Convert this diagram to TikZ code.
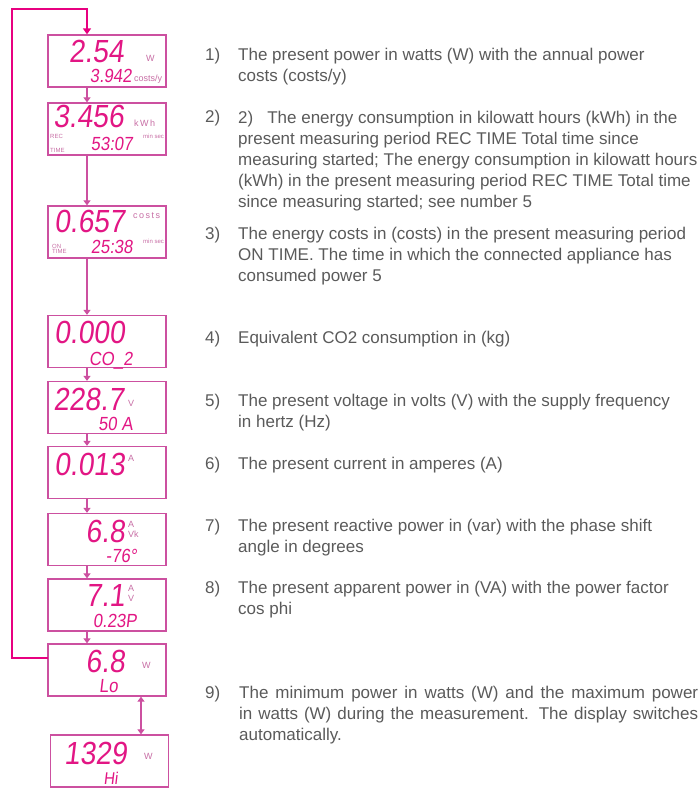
\documentclass[tikz,border=0pt]{standalone}
\usepackage{fontspec}
\setmainfont{Liberation Sans}
\newfontfamily\lcdfont[FakeSlant=0.12,FakeStretch=0.88]{Liberation Sans}
\usepackage{tikz}
\usetikzlibrary{arrows.meta}
\definecolor{lcdpink}{RGB}{226,22,132}
\definecolor{framepink}{RGB}{204,80,160}
\definecolor{looppink}{RGB}{232,0,128}
\definecolor{unitpink}{RGB}{200,110,165}
\definecolor{txtgray}{RGB}{90,90,90}
\tikzset{
  lcdbox/.style   = {draw=framepink, line width=1.3pt, fill=white,
                     minimum width=118pt, minimum height=52pt, inner sep=0pt},
  lcdbig/.style   = {anchor=base east, inner sep=0pt, lcdpink,
                     font=\lcdfont\fontsize{32}{32}\selectfont},
  lcdmid/.style   = {anchor=base east, inner sep=0pt, lcdpink,
                     font=\lcdfont\fontsize{19}{19}\selectfont},
  lcdunit/.style  = {anchor=base west, inner sep=0pt, unitpink,
                     font=\fontsize{9}{9}\selectfont},
  lcdtiny/.style  = {anchor=base west, inner sep=0pt, unitpink,
                     font=\fontsize{6}{6}\selectfont},
  flowar/.style   = {-{Triangle[length=5pt,width=7pt]}, framepink, line width=1.2pt},
  loopline/.style = {-{Triangle[length=6pt,width=8pt]}, looppink, line width=1.8pt},
  itemnum/.style  = {anchor=base west, inner sep=0pt, txtgray,
                     font=\fontsize{17}{21}\selectfont},
  itemtxt/.style  = {itemnum, align=left}
}
% base of a multi-line node is its last line: place nodes at last baseline
\newcommand{\fullline}[1]{\makebox[459pt][s]{#1}}

\begin{document}
\begin{tikzpicture}[x=1pt,y=-1pt]
  \useasboundingbox (0,0) rectangle (700,789);
  % display boxes
  \node[lcdbox] (d1)  at (107,61)    {};
  \node[lcdbox] (d2)  at (107,129)   {};
  \node[lcdbox] (d3)  at (107,232)   {};
  \node[lcdbox] (d4)  at (107,341.5) {};
  \node[lcdbox] (d5)  at (107,407.5) {};
  \node[lcdbox] (d6)  at (107,472.5) {};
  \node[lcdbox] (d7)  at (107,539.5) {};
  \node[lcdbox] (d8)  at (107,605)   {};
  \node[lcdbox] (d9)  at (107,670)   {};
  \node[lcdbox] (d10) at (109.5,761) {};
  % display readings
  \node[lcdbig]  (r1a) at (124,63)  {2.54};
  \node[lcdunit] (u1a) at (146,62)  {W};
  \node[lcdmid]  (r1b) at (132,83)  {3.942};
  \node[lcdunit] (u1b) at (134,82)  {costs/y};
  \node[lcdbig]  (r2a) at (124,128) {3.456};
  \node[lcdunit] (u2a) at (134,127) {k\,W\,h};
  \node[lcdtiny] (u2b) at (50,139)  {REC};
  \node[lcdtiny] (u2c) at (50,152)  {TIME};
  \node[lcdmid]  (r2b) at (133,150) {53:07};
  \node[lcdtiny] (u2d) at (143,139) {min sec};
  \node[lcdbig]  (r3a) at (125,232) {0.657};
  \node[lcdunit] (u3a) at (133,218) {c\,o\,s\,t\,s};
  \node[lcdtiny] (u3b) at (52,248)  {ON};
  \node[lcdtiny] (u3c) at (52,253)  {TIME};
  \node[lcdmid]  (r3b) at (133,253) {25:38};
  \node[lcdtiny] (u3d) at (143,243) {min sec};
  \node[lcdbig]  (r4a) at (125,343) {0.000};
  \node[lcdmid]  (r4b) at (133,365) {CO\_2};
  \node[lcdbig]  (r5a) at (124,410) {228.7};
  \node[lcdunit] (u5a) at (128,406) {V};
  \node[lcdmid]  (r5b) at (133,430) {50 A};
  \node[lcdbig]  (r6a) at (125,475) {0.013};
  \node[lcdunit] (u6a) at (128,461) {A};
  \node[lcdbig]  (r7a) at (125,542) {6.8};
  \node[lcdunit] (u7a) at (128,527) {A};
  \node[lcdunit] (u7b) at (128,537) {Vk};
  \node[lcdmid]  (r7b) at (137,562) {-76°};
  \node[lcdbig]  (r8a) at (125,606) {7.1};
  \node[lcdunit] (u8a) at (128,591) {A};
  \node[lcdunit] (u8b) at (128,601) {V};
  \node[lcdmid]  (r8b) at (137,627) {0.23P};
  \node[lcdbig]  (r9a) at (125,672) {6.8};
  \node[lcdunit] (u9a) at (142,668) {W};
  \node[lcdmid]  (r9b) at (118,692) {Lo};
  \node[lcdbig]  (r10a) at (127,764) {1329};
  \node[lcdunit] (u10a) at (144,759) {W};
  \node[lcdmid,font=\lcdfont\fontsize{17}{17}\selectfont] (r10b) at (118,784) {Hi};
  % connectors
  \coordinate (spine) at (87,0);
  \coordinate (dbl) at (141,0);
  \coordinate (loopin) at (48,658);
  \foreach \a/\b in {d1/d2,d2/d3,d3/d4,d4/d5,d5/d6,d6/d7,d7/d8,d8/d9}
    \draw[flowar] (\a.south -| spine) -- (\b.north -| spine);
  \draw[flowar,{Triangle[length=5pt,width=7pt]}-{Triangle[length=5pt,width=7pt]}]
        (d9.south -| dbl) -- (d10.north -| dbl);
  \draw[loopline] (loopin) -| (12,9) -| (d1.north -| spine);
  % descriptions
  \node[itemnum] (n1) at (205,61)  {1)};
  \node[itemtxt] (t1) at (238,82)  {The present power in watts (W) with the annual power\\
    costs (costs/y)};
  \node[itemnum] (n2) at (205,123) {2)};
  \node[itemtxt] (t2) at (238,207) {2)\hspace{14pt}The energy consumption in kilowatt hours (kWh) in the\\
    present measuring period REC TIME Total time since\\
    measuring started; The energy consumption in kilowatt hours\\
    (kWh) in the present measuring period REC TIME Total time\\
    since measuring started; see number 5};
  \node[itemnum] (n3) at (205,239) {3)};
  \node[itemtxt] (t3) at (238,281) {The energy costs in (costs) in the present measuring period\\
    ON TIME. The time in which the connected appliance has\\
    consumed power 5};
  \node[itemnum] (n4) at (205,343) {4)};
  \node[itemtxt] (t4) at (238,343) {Equivalent CO2 consumption in (kg)};
  \node[itemnum] (n5) at (205,406) {5)};
  \node[itemtxt] (t5) at (238,427) {The present voltage in volts (V) with the supply frequency\\
    in hertz (Hz)};
  \node[itemnum] (n6) at (205,469) {6)};
  \node[itemtxt] (t6) at (238,469) {The present current in amperes (A)};
  \node[itemnum] (n7) at (205,531) {7)};
  \node[itemtxt] (t7) at (238,552) {The present reactive power in (var) with the phase shift\\
    angle in degrees};
  \node[itemnum] (n8) at (205,593) {8)};
  \node[itemtxt] (t8) at (238,614) {The present apparent power in (VA) with the power factor\\
    cos phi};
  \node[itemnum] (n9) at (205,698) {9)};
  \node[itemtxt] (t9) at (239,740) {\fullline{The minimum power in watts (W) and the maximum power}\\
    \fullline{in watts (W) during the measurement. The display switches}\\
    automatically.};
\end{tikzpicture}
\end{document}
